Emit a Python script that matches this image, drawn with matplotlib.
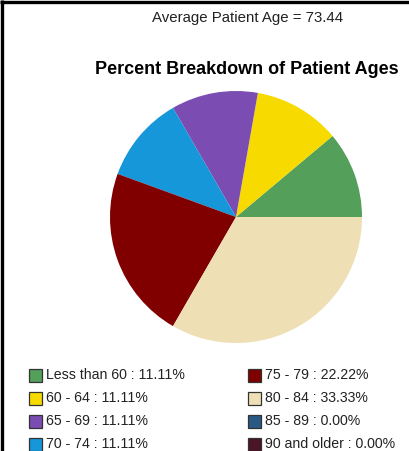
import matplotlib
matplotlib.use("Agg")
import matplotlib.pyplot as plt
from matplotlib.patches import Rectangle
from matplotlib.lines import Line2D

plt.rcParams['font.family'] = ['Liberation Sans', 'DejaVu Sans']

categories = ["Less than 60", "60 - 64", "65 - 69", "70 - 74",
              "75 - 79", "80 - 84", "85 - 89", "90 and older"]
percents = [11.11, 11.11, 11.11, 11.11, 22.22, 33.33, 0.00, 0.00]
colors = ["#54A05B", "#F7DA00", "#7B4DB2", "#1597D9",
          "#800000", "#EEDFB4", "#2B5986", "#4B1428"]
avg_age = 73.44

W, H = 409, 451
fig = plt.figure(figsize=(W / 100, H / 100), dpi=100)
fig.patch.set_facecolor("white")

# border (top and left)
fig.add_artist(Line2D([0, 1], [1 - 1.5 / H, 1 - 1.5 / H], color="black", lw=2.4,
                      transform=fig.transFigure, solid_capstyle="butt"))
fig.add_artist(Line2D([1.5 / W, 1.5 / W], [0, 1], color="black", lw=2.4,
                      transform=fig.transFigure, solid_capstyle="butt"))

fig.text(247.5 / W, 1 - 18 / H, f"Average Patient Age = {avg_age:.2f}",
         ha="center", va="center", fontsize=10.8, color="#222222")
fig.text(247 / W, 1 - 70 / H, "Percent Breakdown of Patient Ages",
         ha="center", va="center", fontsize=13, fontweight="bold", color="black")

cx, cy, r = 236, 217, 126
ax = fig.add_axes([(cx - r) / W, (H - cy - r) / H, 2 * r / W, 2 * r / H])
nz = [(v, c) for v, c in zip(percents, colors) if v > 0]
ax.pie([v for v, c in nz], colors=[c for v, c in nz], startangle=0,
       counterclock=True, radius=1.0, wedgeprops=dict(linewidth=0))
ax.set_xlim(-1, 1)
ax.set_ylim(-1, 1)
ax.set_aspect("auto")
ax.axis("off")

# legend
col_x = [29, 248]
row_y = [375, 398, 421, 444]
for i, (cat, p, c) in enumerate(zip(categories, percents, colors)):
    col = i // 4
    row = i % 4
    x0 = col_x[col]
    y0 = row_y[row]
    fig.add_artist(Rectangle((x0 / W, 1 - (y0 + 6.5) / H), 13 / W, 13 / H,
                             facecolor=c, edgecolor="#333333", lw=0.9,
                             transform=fig.transFigure))
    fig.text((x0 + 17) / W, 1 - y0 / H, f"{cat} : {p:.2f}%",
             ha="left", va="center", fontsize=10.2, color="#222222")

fig.savefig("out.png", dpi=100)
